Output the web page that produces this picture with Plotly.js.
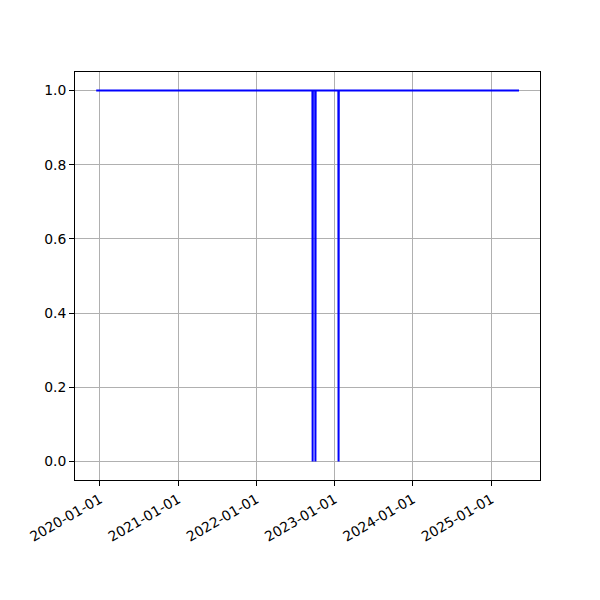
<!DOCTYPE html>
<html>
<head>
<meta charset="utf-8">
<script src="https://cdn.plot.ly/plotly-3.0.1.min.js"></script>
<style>html,body{margin:0;padding:0;background:#fff;}#chart{width:600px;height:600px;}</style>
</head>
<body>
<div id="chart"></div>
<script>
const dates = ["2019-12-15","2022-09-19","2022-09-20","2022-09-21","2022-10-02","2022-10-03","2022-10-04","2023-01-18","2023-01-19","2023-01-20","2025-05-10"];
const values = [1,1,0,1,1,0,1,1,0,1,1];
const yTicks = [0,0.2,0.4,0.6,0.8,1.0];
const yTickText = ["0.0","0.2","0.4","0.6","0.8","1.0"];

const t0 = new Date(dates[0]).getTime();
const t1 = new Date(dates[dates.length-1]).getTime();
const pad = (t1 - t0) * 0.05;
const iso = t => new Date(t).toISOString().slice(0,10);

const font = {family: "DejaVu Sans", size: 13.9, color: "#000"};
Plotly.newPlot("chart", [{
  x: dates, y: values, type: "scatter", mode: "lines",
  line: {color: "#0000ff", width: 2}
}], {
  width: 600, height: 600,
  margin: {l: 75, r: 60, t: 72, b: 120},
  paper_bgcolor: "#fff", plot_bgcolor: "#fff",
  showlegend: false,
  font: font,
  xaxis: {
    type: "date", range: [iso(t0 - pad), iso(t1 + pad)],
    tick0: "2020-01-01", dtick: "M12", tickformat: "%Y-%m-%d",
    tickangle: -30, ticks: "outside", ticklen: 5, tickcolor: "#000",
    showgrid: true, gridcolor: "#b0b0b0", gridwidth: 1,
    showline: true, linecolor: "#000", linewidth: 1, mirror: true,
    zeroline: false, tickfont: font
  },
  yaxis: {
    range: [-0.05, 1.05], tickvals: yTicks, ticktext: yTickText,
    ticks: "outside", ticklen: 5, tickcolor: "#000",
    showgrid: true, gridcolor: "#b0b0b0", gridwidth: 1,
    showline: true, linecolor: "#000", linewidth: 1, mirror: true,
    zeroline: false, tickfont: font
  }
}, {displayModeBar: false, staticPlot: true});
</script>
</body>
</html>
